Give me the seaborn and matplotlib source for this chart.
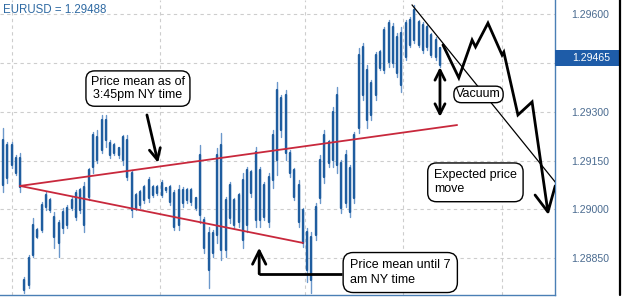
import matplotlib
matplotlib.use("Agg")
import matplotlib.pyplot as plt
import matplotlib.transforms as mtransforms
from matplotlib.patches import Rectangle
from matplotlib.lines import Line2D
import numpy as np
import pandas as pd
import seaborn as sns

# ---------------- data ----------------
high = [1.29250, 1.29207, 1.29207, 1.29167, 1.29173, 1.28793, 1.28860, 1.28974, 1.28943, 1.29023,
        1.29054, 1.29035, 1.28992, 1.28968, 1.29004, 1.29014, 1.29038, 1.29060, 1.29066, 1.29084,
        1.29127, 1.29238, 1.29244, 1.29290, 1.29290, 1.29213, 1.29204, 1.29192, 1.29229, 1.29229,
        1.29121, 1.29050, 1.29060, 1.29075, 1.29100, 1.29075, 1.29075, 1.29090, 1.29069, 1.29075,
        1.29060, 1.29075, 1.29069, 1.29066, 1.29066, 1.29038, 1.29198, 1.28977, 1.28946, 1.28937,
        1.29189, 1.29235, 1.29038, 1.29084, 1.29035, 1.29050, 1.29112, 1.29130, 1.29121, 1.29192,
        1.29130, 1.29084, 1.29112, 1.29244, 1.29391, 1.29351, 1.29367, 1.29182, 1.29127, 1.29090,
        1.29004, 1.28943, 1.28931, 1.29020, 1.29167, 1.29244, 1.29213, 1.29315, 1.29376, 1.29152,
        1.29182, 1.29136, 1.29238, 1.29496, 1.29511, 1.29443, 1.29397, 1.29483, 1.29489, 1.29560,
        1.29582, 1.29572, 1.29542, 1.29560, 1.29582, 1.29591, 1.29628, 1.29582, 1.29575, 1.29566,
        1.29542, 1.29529, 1.29499]
low = [1.29054, 1.29081, 1.29127, 1.29106, 1.29054, 1.28743, 1.28759, 1.28854, 1.28912, 1.28931,
       1.28998, 1.28992, 1.28882, 1.28854, 1.28928, 1.28943, 1.28998, 1.28968, 1.28989, 1.28931,
       1.29029, 1.29112, 1.29143, 1.29173, 1.29192, 1.29158, 1.29167, 1.29158, 1.29136, 1.29090,
       1.28977, 1.28998, 1.29004, 1.29020, 1.29023, 1.29038, 1.29044, 1.29038, 1.29054, 1.29014,
       1.28937, 1.28937, 1.29008, 1.29020, 1.29014, 1.28998, 1.28958, 1.28866, 1.28759, 1.28854,
       1.28897, 1.28845, 1.28854, 1.28958, 1.28943, 1.28946, 1.28882, 1.28931, 1.29038, 1.28946,
       1.28946, 1.28968, 1.28946, 1.29066, 1.29106, 1.29222, 1.29152, 1.29100, 1.29029, 1.28946,
       1.28885, 1.28777, 1.28743, 1.28906, 1.29020, 1.29081, 1.29130, 1.29130, 1.29112, 1.28989,
       1.29008, 1.28977, 1.29020, 1.29235, 1.29336, 1.29250, 1.29275, 1.29336, 1.29428, 1.29419,
       1.29437, 1.29437, 1.29407, 1.29361, 1.29459, 1.29499, 1.29511, 1.29499, 1.29480, 1.29489,
       1.29468, 1.29459, 1.29437]
close_ = [1.29213, 1.29198, 1.29198, 1.29158, 1.29158, 1.28783, 1.28851, 1.28952, 1.28937, 1.29014,
          1.29044, 1.29029, 1.28977, 1.28958, 1.28992, 1.29004, 1.29029, 1.29050, 1.29060, 1.29069,
          1.29121, 1.29229, 1.29222, 1.29275, 1.29275, 1.29204, 1.29198, 1.29189, 1.29222, 1.29213,
          1.29112, 1.29044, 1.29054, 1.29069, 1.29090, 1.29069, 1.29069, 1.29081, 1.29066, 1.29069,
          1.29050, 1.29060, 1.29060, 1.29060, 1.29060, 1.29035, 1.29167, 1.28968, 1.28928, 1.28928,
          1.29167, 1.29198, 1.29029, 1.29075, 1.29029, 1.29044, 1.29090, 1.29121, 1.29115, 1.29176,
          1.29121, 1.29075, 1.29100, 1.29229, 1.29367, 1.29342, 1.29351, 1.29173, 1.29121, 1.29075,
          1.28998, 1.28931, 1.28915, 1.29008, 1.29152, 1.29229, 1.29207, 1.29299, 1.29351, 1.29143,
          1.29167, 1.29127, 1.29229, 1.29474, 1.29499, 1.29428, 1.29388, 1.29474, 1.29483, 1.29551,
          1.29572, 1.29560, 1.29529, 1.29542, 1.29572, 1.29582, 1.29612, 1.29575, 1.29566, 1.29560,
          1.29536, 1.29520, 1.29496]
open_ = [1.29075, 1.29097, 1.29136, 1.29112, 1.29069, 1.28753, 1.28768, 1.28860, 1.28915, 1.28937,
         1.29008, 1.28998, 1.28915, 1.28897, 1.28943, 1.28952, 1.29004, 1.28977, 1.28998, 1.28952,
         1.29038, 1.29130, 1.29152, 1.29182, 1.29213, 1.29167, 1.29173, 1.29167, 1.29152, 1.29100,
         1.28998, 1.29004, 1.29014, 1.29029, 1.29035, 1.29044, 1.29050, 1.29044, 1.29060, 1.29023,
         1.28946, 1.28952, 1.29020, 1.29029, 1.29023, 1.29004, 1.28983, 1.28882, 1.28814, 1.28866,
         1.28922, 1.28875, 1.28875, 1.28974, 1.28952, 1.28961, 1.28906, 1.28952, 1.29050, 1.28968,
         1.28968, 1.28977, 1.28961, 1.29090, 1.29152, 1.29244, 1.29173, 1.29112, 1.29038, 1.28961,
         1.28897, 1.28814, 1.28783, 1.28922, 1.29035, 1.29100, 1.29143, 1.29152, 1.29136, 1.29004,
         1.29020, 1.28992, 1.29035, 1.29250, 1.29351, 1.29275, 1.29290, 1.29351, 1.29434, 1.29428,
         1.29453, 1.29450, 1.29419, 1.29382, 1.29468, 1.29505, 1.29520, 1.29505, 1.29489, 1.29499,
         1.29474, 1.29468, 1.29443]

title_text = "EURUSD = 1.29488"
last_price = 1.29465
ytick_values = [1.28850, 1.29000, 1.29150, 1.29300, 1.29450, 1.29600]
vgrid_bars = [2.1, 36.6, 70.5, 93.4, 116.5]

# annotation geometry (bar index, price)
mean_anchor = (3.97, 1.29072)
mean_upper_end = (106.0, 1.29259)
mean_lower_end = (70.0, 1.28897)
proj_x = [102.7, 106.4, 109.5, 110.3, 113.2, 116.5, 116.9, 120.2, 123.5, 127.2, 128.9]
proj_y = [1.29505, 1.29404, 1.29520, 1.29499, 1.29572, 1.29474, 1.29483, 1.29290, 1.29330, 1.28992, 1.29072]
proj_head = (124.2, 1.29044)
trend_x = [95.47, 129.08]
trend_y = [1.29628, 1.29081]
vacuum_x = 102.0
vacuum_y = (1.29437, 1.29284)
arrow1_tail = (33.6, 1.29290)
arrow1_tip = (36.2, 1.29143)
conn_box_x, conn_corner_x = 79.1, 59.8
conn_y, conn_tip_y = 1.28802, 1.28882

# ---------------- style ----------------
sns.set_theme(style="white")
plt.rcParams["font.family"] = ["Liberation Sans", "DejaVu Sans"]

fig = plt.figure(figsize=(6.29, 2.99), dpi=100)
fig.patch.set_facecolor("white")
ax = fig.add_axes([0.0, 4 / 299, 555 / 629, 295 / 299])

n = len(high)
idx = np.arange(n)
wick = pd.DataFrame({"bar": np.concatenate([idx, idx]),
                     "price": np.concatenate([high, low])})
body = pd.DataFrame({"bar": np.concatenate([idx, idx]),
                     "price": np.concatenate([open_, close_])})

sns.lineplot(data=wick, x="bar", y="price", units="bar", estimator=None, sort=False,
             color="#6b98cb", lw=1.0, ax=ax, zorder=3)
sns.lineplot(data=body, x="bar", y="price", units="bar", estimator=None, sort=False,
             color="#1f5d9f", lw=1.7, ax=ax, zorder=4)

ax.set_xlim(-0.70, 128.85)
ax.set_ylim(1.28737, 1.29643)
ax.set_xlabel("")
ax.set_ylabel("")

# grid
ax.set_xticks(vgrid_bars)
ax.set_xticklabels([])
ax.set_yticks(ytick_values)
ax.set_yticklabels(["" if abs(v - 1.29450) < 1e-7 else f"{v:.5f}" for v in ytick_values])
ax.yaxis.tick_right()
ax.tick_params(axis="y", length=0, pad=12, labelsize=7.6, labelcolor="#4a6b90")
ax.tick_params(axis="x", length=0)
ax.grid(True, color="#cdcdcd", linestyle=(0, (3, 3)), lw=0.8)
ax.set_axisbelow(True)

for s in ["left", "top"]:
    ax.spines[s].set_visible(False)
for s in ["right", "bottom"]:
    ax.spines[s].set_color("#4a7fb5")
    ax.spines[s].set_linewidth(1.0)

# red mean lines
ax.plot([mean_anchor[0], mean_upper_end[0]], [mean_anchor[1], mean_upper_end[1]],
        color="#c8283c", lw=1.3, zorder=5)
ax.plot([mean_anchor[0], mean_lower_end[0]], [mean_anchor[1], mean_lower_end[1]],
        color="#c8283c", lw=1.3, zorder=5)

# thin trendline
ax.plot(trend_x, trend_y, color="black", lw=0.9, zorder=5)

# projected path
ax.plot(proj_x, proj_y, color="black", lw=2.0, zorder=6, solid_joinstyle="miter")
ax.plot([proj_head[0], proj_x[-2]], [proj_head[1], proj_y[-2]], color="black", lw=2.0, zorder=6)

# vacuum double arrow
ax.annotate("", xy=(vacuum_x, vacuum_y[0]), xytext=(vacuum_x, vacuum_y[1]),
            arrowprops=dict(arrowstyle="<->", color="black", lw=2.0, mutation_scale=18,
                            shrinkA=0, shrinkB=0), zorder=6)

# arrow from the top label
ax.annotate("", xy=arrow1_tip, xytext=arrow1_tail,
            arrowprops=dict(arrowstyle="->", color="black", lw=2.0, mutation_scale=20,
                            shrinkA=0, shrinkB=0), zorder=6)

# connector from the bottom label
ax.plot([conn_box_x, conn_corner_x], [conn_y, conn_y], color="black", lw=2.0, zorder=6,
        solid_capstyle="butt")
ax.annotate("", xy=(conn_corner_x, conn_tip_y), xytext=(conn_corner_x, conn_y),
            arrowprops=dict(arrowstyle="->", color="black", lw=2.0, mutation_scale=24,
                            shrinkA=0, shrinkB=0), zorder=6)

# labels
box_kw = dict(boxstyle="round,pad=0.4,rounding_size=0.7", fc="white", ec="black", lw=1.0)
ax.text(31.5, 1.29371, "Price mean as of\n3:45pm NY time", fontsize=9, ha="center",
        va="center", linespacing=1.15, bbox=box_kw, zorder=10, color="black")
ax.text(111.0, 1.29353, "Vacuum", fontsize=9, ha="center", va="center",
        bbox=dict(boxstyle="round,pad=0.18,rounding_size=0.6", fc="white", ec="black", lw=1.0),
        zorder=10, color="black")
ax.text(100.6, 1.29083, "Expected price\nmove", fontsize=9, ha="left", va="center",
        linespacing=1.25, bbox=dict(boxstyle="round,pad=0.5,rounding_size=0.7", fc="white",
                                    ec="black", lw=1.0), zorder=10, color="black")
ax.text(81.0, 1.28806, "Price mean until 7\nam NY time", fontsize=9, ha="left", va="center",
        linespacing=1.25, bbox=dict(boxstyle="round,pad=0.55,rounding_size=0.8", fc="white",
                                    ec="black", lw=1.0), zorder=10, color="black",
        clip_on=False)

# last price box on the axis
trans = mtransforms.blended_transform_factory(ax.transAxes, ax.transData)
ax.add_patch(Rectangle((1.0, last_price - 0.000245), 65 / 555, 0.00049, transform=trans,
                       facecolor="#1e5ca8", edgecolor="none", clip_on=False, zorder=8))
ax.text(1.0 + 17 / 555, last_price, f"{last_price:.5f}", transform=trans, fontsize=7.6,
        color="white", ha="left", va="center", zorder=9, clip_on=False)

# title
fig.text(3 / 629, 1 - 10 / 299, title_text, fontsize=8.3, color="#2f6aa3", ha="left", va="center")

# outer black frame line on the right
fig.add_artist(Line2D([620 / 629, 620 / 629], [4 / 299, 1.0], color="black", lw=1.6))

fig.savefig("out.png", dpi=100, facecolor="white")
